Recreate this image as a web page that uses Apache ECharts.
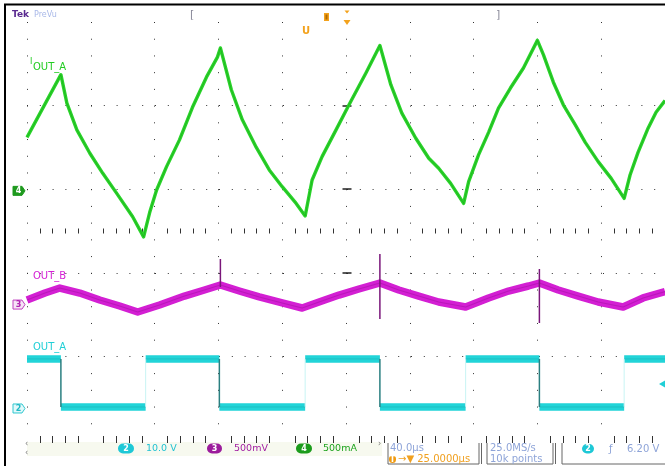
<!DOCTYPE html>
<html><head><meta charset="utf-8">
<script src="https://cdn.jsdelivr.net/npm/echarts@6/dist/echarts.min.js"></script>
<style>html,body{margin:0;padding:0;background:#fff}#c{width:665px;height:466px}</style>
</head><body><div id="c"></div>
<script>
// Horizontal scale: 40 µs/div over 10 divisions. Vertical values are in graticule divisions (0 = bottom, 5 = top).
const timeRangeUs = [0, 400];
const timePerDivUs = 40;
const vertDivs = [0, 5];

// I_OUT_A (ch4, green) : [time µs, divisions]
const iOutA = [[0,3.62],[21.25,4.37],[25,4.03],[31.25,3.71],[39.4,3.43],[47.5,3.19],[56.25,2.95],[66.25,2.67],[73.1,2.43],
  [76.9,2.72],[81.25,2.99],[87.5,3.27],[95.6,3.59],[103.75,3.98],[112.5,4.34],[119.4,4.58],[121.25,4.69],
  [128.1,4.19],[135,3.83],[143.75,3.50],[151.9,3.23],[160,3.03],[168.75,2.83],[174.4,2.68],
  [178.75,3.11],[185,3.39],[193.75,3.71],[201.9,4.01],[212.5,4.39],[221.25,4.72],
  [228.1,4.25],[235,3.91],[243.75,3.61],[251.9,3.37],[258.1,3.25],[265.6,3.07],[273.75,2.83],
  [276.9,3.09],[283.1,3.41],[289.4,3.68],[295.6,3.97],[303.1,4.21],[311.25,4.45],[320,4.78],
  [323.75,4.61],[330,4.28],[336.25,4.01],[343.75,3.77],[350,3.56],[358.1,3.33],[366.25,3.13],[374.4,2.89],
  [378.1,3.17],[383.1,3.44],[389.4,3.73],[394.4,3.92],[400,4.06]];

// OUT_B (ch3, magenta)
const outB = [[0,1.675],[11.25,1.758],[20.6,1.818],[33.1,1.758],[45.6,1.675],[58.1,1.603],[69.4,1.531],[83.1,1.615],
  [98.75,1.722],[111.25,1.794],[121.25,1.854],[133.1,1.782],[145.6,1.711],[160,1.639],[172.5,1.579],[183.1,1.651],
  [195.6,1.734],[208.1,1.806],[221.25,1.878],[233.1,1.794],[245.6,1.722],[258.1,1.651],[275,1.591],[289.4,1.699],
  [301.9,1.782],[314.4,1.842],[321.25,1.878],[333.1,1.794],[345.6,1.722],[358.1,1.651],[373.75,1.591],[386.25,1.699],[400,1.775]];
// switching spikes on OUT_B: [time µs, top, bottom]
const outBSpikes = [[121.25,2.165,1.83],[221.25,2.225,1.447],[321.25,2.045,1.40]];

// OUT_A (ch2, cyan): edge times (starts high), levels in divisions
const outAEdgesUs = [21.25, 74.4, 120.6, 174.4, 221.25, 275, 321.25, 374.4];
const outAHigh = 0.97;
const outALow = 0.395;

// channel ground markers and trigger level (divisions)
const groundCh4 = 2.98, groundCh3 = 1.62, groundCh2 = 0.377;
const triggerLevel = 0.67;

// readouts
const ch2Scale = '10.0 V', ch3Scale = '500mV', ch4Scale = '500mA';
const timeScale = '40.0µs', trigPos = '→▼ 25.0000µs', sampleRate = '25.0MS/s', recLen = '10k points', trigLevelText = '6.20 V';

// ---- build line data ----
const outASegs = [], outAFall = [], outARise = [];
(function(){
  let t0 = timeRangeUs[0], high = true;
  const ends = outAEdgesUs.concat([timeRangeUs[1]]);
  ends.forEach(function(e, i){
    const lv = high ? outAHigh : outALow;
    outASegs.push([t0, lv], [e, lv], [e, null]);
    if (i < outAEdgesUs.length) {
      (high ? outAFall : outARise).push([e, outAHigh], [e, outALow], [e, null]);
    }
    high = !high; t0 = e;
  });
})();
const spikeData = [];
outBSpikes.forEach(function(s){ spikeData.push([s[0], s[1]], [s[0], s[2]], [s[0], null]); });

const FONT = 'DejaVu Sans';
const chart = echarts.init(document.getElementById('c'), null, {renderer: 'canvas'});
const hidden = {show: false};
const baseX = {type: 'value', min: timeRangeUs[0], max: timeRangeUs[1], interval: timePerDivUs,
  axisLine: hidden, axisLabel: hidden, splitLine: hidden};
const baseY = {type: 'value', min: vertDivs[0], max: vertDivs[1], interval: 1,
  axisLine: hidden, axisLabel: hidden, splitLine: hidden, axisTick: hidden};

function lineSeries(data, color, width, opacity, z) {
  return {type: 'line', data: data, showSymbol: false, symbol: 'none', animation: false, silent: true,
    connectNulls: false, z: z || 2, lineStyle: {color: color, width: width, opacity: opacity == null ? 1 : opacity, cap: 'butt', join: 'round'}};
}

chart.setOption({
  backgroundColor: '#ffffff',
  animation: false,
  grid: {left: 27, top: 22, width: 640, height: 418, containLabel: false},
  xAxis: [
    Object.assign({}, baseX, {position: 'bottom', offset: 1,
      axisTick: {show: false, inside: true},
      minorTick: {show: true, splitNumber: 5, length: 4, lineStyle: {color: '#333', width: 1}},
      splitLine: {show: true, lineStyle: {color: '#333', width: 1, type: [1, 15.72]}}}),
    Object.assign({}, baseX, {position: 'top', offset: 0,
      axisTick: {show: false, inside: true},
      minorTick: {show: true, splitNumber: 5, length: 3, lineStyle: {color: '#333', width: 1}}}),
    Object.assign({}, baseX, {position: 'bottom', offset: -206.5,
      axisTick: {show: false, inside: true},
      minorTick: {show: true, splitNumber: 5, length: 5, lineStyle: {color: '#333', width: 1}}})
  ],
  yAxis: [
    Object.assign({}, baseY, {position: 'left',
      splitLine: {show: true, showMinLine: false, showMaxLine: false, lineStyle: {color: '#333', width: 1, type: [1, 11.8]}}}),
    Object.assign({}, baseY, {position: 'left', offset: -324.5,
      axisTick: {show: true, length: 9, customValues: [1,2,3,4], lineStyle: {color: '#222', width: 1.5}}})
  ],
  series: [
    lineSeries(outASegs, '#22d4d8', 7.5, 1, 3),
    lineSeries(outASegs, '#139a9c', 1, 0.35, 4),
    lineSeries(outAFall, '#2a7f80', 1.5, 1, 4),
    lineSeries(outARise, '#c8f4f4', 1, 1, 3),
    lineSeries(outB, '#d31fd3', 7.5, 1, 5),
    lineSeries(outB, '#8a0c8a', 1.2, 0.35, 6),
    lineSeries(spikeData, '#7a167a', 1.5, 1, 7),
    lineSeries(iOutA, '#2ad42a', 3.4, 1, 8),
    lineSeries(iOutA, '#0c7f0c', 1, 0.3, 9)
  ]
});

function py(d) { return chart.convertToPixel({gridIndex: 0}, [0, d])[1]; }
function marker(y, num, fill, stroke, txt) {
  return {type: 'group', x: 13, y: y, children: [
    {type: 'polygon', shape: {points: [[0,-4.5],[9,-4.5],[12,0],[9,4.5],[0,4.5]]}, style: {fill: fill, stroke: stroke, lineWidth: 1}},
    {type: 'text', x: 5.5, y: 0.5, style: {text: num, fill: txt, font: 'bold 8px ' + FONT, align: 'center', verticalAlign: 'middle'}}
  ]};
}
function txt(x, y, s, color, size, weight) {
  return {type: 'text', x: x, y: y, style: {text: s, fill: color, font: (weight || 'normal') + ' ' + size + 'px ' + FONT, verticalAlign: 'middle'}};
}
function badge(x, y, w, h, num, fill) {
  return {type: 'group', x: x, y: y, children: [
    {type: 'rect', shape: {x: 0, y: 0, width: w, height: h, r: h / 2}, style: {fill: fill}},
    {type: 'text', x: w / 2, y: h / 2 + 0.5, style: {text: num, fill: '#fff', font: 'bold 8px ' + FONT, align: 'center', verticalAlign: 'middle'}}
  ]};
}
function pl(points, color, w) {
  return {type: 'polyline', shape: {points: points}, style: {stroke: color, lineWidth: w || 1, fill: null}};
}
const trigY = py(triggerLevel);
chart.setOption({graphic: [
  // frame
  pl([[5,466],[5,4.5],[665,4.5]], '#000', 2),
  // header
  txt(12, 15, 'Tek', '#5a2a90', 9, 'bold'),
  txt(34, 15, 'PreVu', '#a8b8e8', 8),
  txt(190, 15.5, '[', '#8a8a9a', 11),
  txt(496, 15.5, ']', '#8a8a9a', 11),
  {type: 'rect', shape: {x: 324, y: 13, width: 5, height: 8}, style: {fill: '#f3a21c'}},
  {type: 'rect', shape: {x: 325.5, y: 14.5, width: 2, height: 5}, style: {fill: '#b06a00'}},
  {type: 'polygon', shape: {points: [[344.5,10.5],[349.5,10.5],[347,13.5]]}, style: {fill: '#f3a21c'}},
  {type: 'polygon', shape: {points: [[343.5,20],[350.5,20],[347,25]]}, style: {fill: '#f3a21c'}},
  txt(302, 31, 'U', '#f3a21c', 10, 'bold'),
  // channel labels
  txt(30, 62, 'I', '#22cc22', 8),
  txt(33, 67, 'OUT_A', '#22cc22', 10),
  txt(33, 276, 'OUT_B', '#d41fd4', 10),
  txt(33, 347, 'OUT_A', '#20cfd6', 10),
  // ground markers
  marker(py(groundCh4), '4', '#1f9a1f', '#1f9a1f', '#ffffff'),
  marker(py(groundCh3), '3', '#f6e4f6', '#c040c0', '#b020b0'),
  marker(py(groundCh2), '2', '#e2f8fa', '#30c8d0', '#20b8c4'),
  // trigger level arrow
  {type: 'polygon', shape: {points: [[659, trigY],[665, trigY - 3.5],[665, trigY + 3.5]]}, style: {fill: '#20cfd6'}},
  // status bar
  {type: 'rect', shape: {x: 27, y: 442, width: 355, height: 14}, style: {fill: '#f7f9ef'}, z: -1},
  txt(25, 444, '‹', '#777', 8),
  txt(25, 453, '‹', '#777', 8),
  txt(378, 444, '›', '#777', 8),
  badge(118, 443.5, 16, 10, '2', '#1ec8d6'),
  txt(146, 449, ch2Scale, '#22c2d2', 9.5),
  badge(207, 443.5, 15, 10, '3', '#9c1c9c'),
  txt(234, 449, ch3Scale, '#a21ea2', 9.5),
  badge(296, 443.5, 16, 10, '4', '#1c9c1c'),
  txt(323, 449, ch4Scale, '#1da31d', 9.5),
  pl([[388,443],[388,464],[479,464],[479,443]], '#666', 1),
  pl([[481.5,443],[481.5,464]], '#666', 1),
  pl([[487,443],[487,464],[553,464],[553,443]], '#666', 1),
  pl([[555.5,443],[555.5,464]], '#666', 1),
  pl([[562,443],[562,464],[665,464]], '#666', 1),
  txt(390, 448.5, timeScale, '#8ea4d8', 10),
  badge(389, 455.5, 7, 7.5, 'T', '#f09a10'),
  txt(398, 459.5, trigPos, '#f0a020', 10),
  txt(490, 448.5, sampleRate, '#8ea4d8', 10),
  txt(490, 459.5, recLen, '#8ea4d8', 10),
  badge(582, 444, 12, 9.5, '2', '#1ec8d6'),
  txt(609, 449, 'ƒ', '#8ea4d8', 10),
  txt(627, 449, trigLevelText, '#8ea4d8', 10)
]});
</script></body></html>
